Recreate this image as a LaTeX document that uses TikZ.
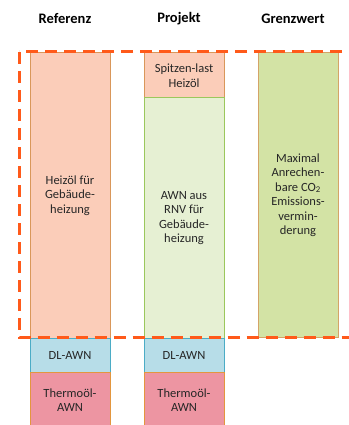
\documentclass[tikz,border=0pt]{standalone}
\usepackage{fontspec}
\setmainfont{Carlito}
\usepackage{tikz}

\definecolor{peach}{HTML}{FBCDB9}
\definecolor{peachline}{HTML}{D9975A}
\definecolor{lgreen}{HTML}{E6F0D3}
\definecolor{lgreenline}{HTML}{9BC75C}
\definecolor{dgreen}{HTML}{D3E3A5}
\definecolor{dgreenline}{HTML}{D4A467}
\definecolor{lblue}{HTML}{B7DDE8}
\definecolor{lblueline}{HTML}{4BACC6}
\definecolor{pink}{HTML}{ED95A2}
\definecolor{pinkline}{HTML}{E3963E}
\definecolor{dashorange}{HTML}{FF5A1A}

\begin{document}
\begin{tikzpicture}[x=1pt,y=-1pt,
    box/.style={draw,line width=1pt,minimum width=80pt,inner sep=0pt,align=center,
        font=\fontsize{12.5}{14.5}\selectfont,text=black!85},
    head/.style={font=\fontsize{14.5}{16}\selectfont\bfseries}]
    \useasboundingbox (0,0) rectangle (348,425);

    \node[head] (hRef) at (65,19){Referenz};
    \node[head] (hPro) at (179,19){Projekt};
    \node[head] (hGrenz) at (293,19){Grenzwert};

    % Referenz
    \node[box,fill=peach,draw=peachline,minimum height=285pt] (refHeiz) at (70,195.5){Heizöl für\\Gebäude-\\heizung};
    \node[box,fill=lblue,draw=lblueline,minimum height=34pt] (refDL) at (70,355){DL-AWN};
    \node[box,fill=pink,draw=pinkline,minimum height=56pt] (refThermo) at (70,400){Thermoöl-\\AWN};

    % Projekt
    \node[box,fill=peach,draw=peachline,minimum height=45pt] (proSpitze) at (184,75.5){Spitzen-last\\Heizöl};
    \node[box,fill=lgreen,draw=lgreenline,minimum height=240pt] (proAWN) at (184,218){AWN aus\\RNV für\\Gebäude-\\heizung};
    \node[box,fill=lblue,draw=lblueline,minimum height=34pt] (proDL) at (184,355){DL-AWN};
    \node[box,fill=pink,draw=pinkline,minimum height=56pt] (proThermo) at (184,400){Thermoöl-\\AWN};

    % Grenzwert
    \node[box,fill=dgreen,draw=dgreenline,minimum height=284pt] (grenz) at (298,195){Maximal\\Anrechen-\\bare CO\textsubscript{2}\\Emissions-\\vermin-\\derung};

    \draw[dashorange,line width=3pt,dash pattern=on 12pt off 7pt](19,52) rectangle (370,337.5);
\end{tikzpicture}
\end{document}
